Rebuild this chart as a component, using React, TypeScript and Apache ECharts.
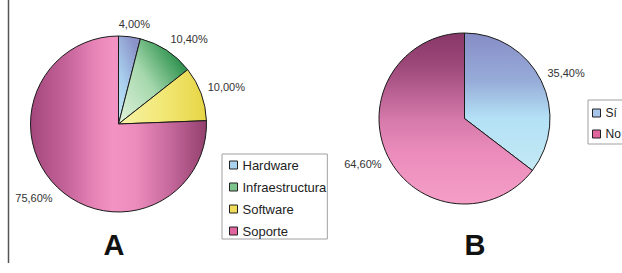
import React, { useEffect, useRef } from "react";
import * as echarts from "echarts";

const categoriesA = ["Hardware", "Infraestructura", "Software", "Soporte"];
const valuesA = [4.0, 10.4, 10.0, 75.6];
const categoriesB = ["Sí", "No"];
const valuesB = [35.4, 64.6];
const panelLabels = ["A", "B"];

const FONT = "'Liberation Sans', Arial, sans-serif";

const lg = (x: number, y: number, x2: number, y2: number, stops: [number, string][]) =>
  new echarts.graphic.LinearGradient(
    x, y, x2, y2,
    stops.map(([offset, color]) => ({ offset, color }))
  );

const fillsA = [
  lg(0, 1, 0.6, 0, [[0, "#c2ebf7"], [0.45, "#a9cfee"], [1, "#8a92c8"]]),
  lg(0, 1, 1, 0.2, [[0, "#e2f3dc"], [0.5, "#a6d8ad"], [0.85, "#3f9c5c"], [1, "#1d7a40"]]),
  lg(0, 0, 1, 0, [[0, "#f7f2a8"], [0.5, "#f2e876"], [1, "#e6d544"]]),
  lg(0, 0, 1, 0, [
    [0, "#a3477d"],
    [0.2, "#c4639a"],
    [0.36, "#e683b6"],
    [0.47, "#f293c3"],
    [0.6, "#ec8cbd"],
    [0.8, "#c4679a"],
    [1, "#93406e"],
  ]),
];
const fillsB = [
  lg(0, 0, 0, 1, [[0, "#878dc6"], [0.35, "#97acd9"], [0.62, "#b4e1f6"], [1, "#c3e9f3"]]),
  lg(0, 0, 0, 1, [[0, "#873767"], [0.2, "#9e4a7b"], [0.5, "#d479aa"], [0.7, "#eb8cbc"], [1, "#f59ec7"]]),
];
const legendColorsA = ["#a9d2ef", "#7cc48c", "#f0dc58", "#e0649e"];
const legendColorsB = ["#a7c4ea", "#e0649e"];

const clamp = (v: number) => Math.max(-1, Math.min(1, v));

function makeLayout(values: number[], center: [number, number], radius: number, gap: number) {
  const total = values.reduce((a, b) => a + b, 0);
  return (params: any) => {
    const i = params.dataIndex;
    let before = 0;
    for (let k = 0; k < i; k++) before += values[k];
    const mid = ((before + values[i] / 2) / total) * Math.PI * 2;
    const ux = Math.sin(mid);
    const uy = -Math.cos(mid);
    const w = params.labelRect.width;
    const h = params.labelRect.height;
    const d = radius + gap;
    return {
      x: center[0] + ux * d + (w / 2) * clamp(2 * ux),
      y: center[1] + uy * d + (h / 2) * clamp(2 * uy),
      align: "center",
      verticalAlign: "middle",
    };
  };
}

const fmt = (p: any) => p.value.toFixed(2).replace(".", ",") + "%";

export default function App() {
  const ref = useRef<HTMLDivElement>(null);
  useEffect(() => {
    if (!ref.current) return;
    const chart = echarts.init(ref.current, undefined, { renderer: "svg" });
    const centerA: [number, number] = [118.5, 124];
    const radiusA = 88;
    const centerB: [number, number] = [464.5, 118.5];
    const radiusB = 85.5;
    const labelStyle = {
      show: true,
      position: "outside",
      alignTo: "none",
      overflow: "none",
      formatter: fmt,
      fontSize: 11,
      color: "#333",
      fontFamily: FONT,
    };
    const legendCommon = {
      orient: "vertical",
      icon: "rect",
      itemWidth: 8,
      itemHeight: 8,
      selectedMode: false,
      borderColor: "#a0a0a0",
      borderWidth: 1,
      backgroundColor: "#fff",
      textStyle: { fontSize: 13, color: "#222", fontFamily: FONT, lineHeight: 14 },
    };
    chart.setOption({
      animation: false,
      backgroundColor: "#fff",
      legend: [
        {
          ...legendCommon,
          left: 222,
          top: 154,
          itemGap: 8,
          padding: [4, 1, 1, 7],
          data: categoriesA.map((name, i) => ({
            name,
            itemStyle: { color: legendColorsA[i], borderColor: "#222", borderWidth: 1 },
          })),
        },
        {
          ...legendCommon,
          left: 588,
          top: 100,
          itemGap: 7,
          padding: [6, 30, 3, 4],
          textStyle: { fontSize: 12, color: "#222", fontFamily: FONT, lineHeight: 14 },
          data: categoriesB.map((name, i) => ({
            name,
            itemStyle: { color: legendColorsB[i], borderColor: "#222", borderWidth: 1 },
          })),
        },
      ],
      series: [
        {
          type: "pie",
          center: centerA,
          radius: radiusA,
          startAngle: 90,
          clockwise: true,
          silent: true,
          itemStyle: { borderColor: "#1a1a1a", borderWidth: 1 },
          label: labelStyle,
          labelLine: { show: false },
          labelLayout: makeLayout(valuesA, centerA, radiusA, 7),
          data: categoriesA.map((name, i) => ({
            name,
            value: valuesA[i],
            itemStyle: { color: fillsA[i] },
          })),
        },
        {
          type: "pie",
          center: centerB,
          radius: radiusB,
          startAngle: 90,
          clockwise: true,
          silent: true,
          itemStyle: { borderColor: "#1a1a1a", borderWidth: 1 },
          label: labelStyle,
          labelLine: { show: false },
          labelLayout: makeLayout(valuesB, centerB, radiusB, 7),
          data: categoriesB.map((name, i) => ({
            name,
            value: valuesB[i],
            itemStyle: { color: fillsB[i] },
          })),
        },
      ],
      graphic: [
        {
          type: "line",
          shape: { x1: 8.5, y1: 0, x2: 8.5, y2: 263 },
          style: { stroke: "#555", lineWidth: 1.5 },
        },
        {
          type: "text",
          x: 114,
          y: 245,
          style: {
            text: panelLabels[0],
            font: `bold 29px ${FONT}`,
            fill: "#111",
            textAlign: "center",
            textVerticalAlign: "middle",
          },
        },
        {
          type: "text",
          x: 475,
          y: 245,
          style: {
            text: panelLabels[1],
            font: `bold 29px ${FONT}`,
            fill: "#111",
            textAlign: "center",
            textVerticalAlign: "middle",
          },
        },
      ],
    });
    return () => chart.dispose();
  }, []);
  return (
    <div
      ref={ref}
      style={{ position: "fixed", left: 0, top: 0, width: 622, height: 273, overflow: "hidden" }}
    />
  );
}
